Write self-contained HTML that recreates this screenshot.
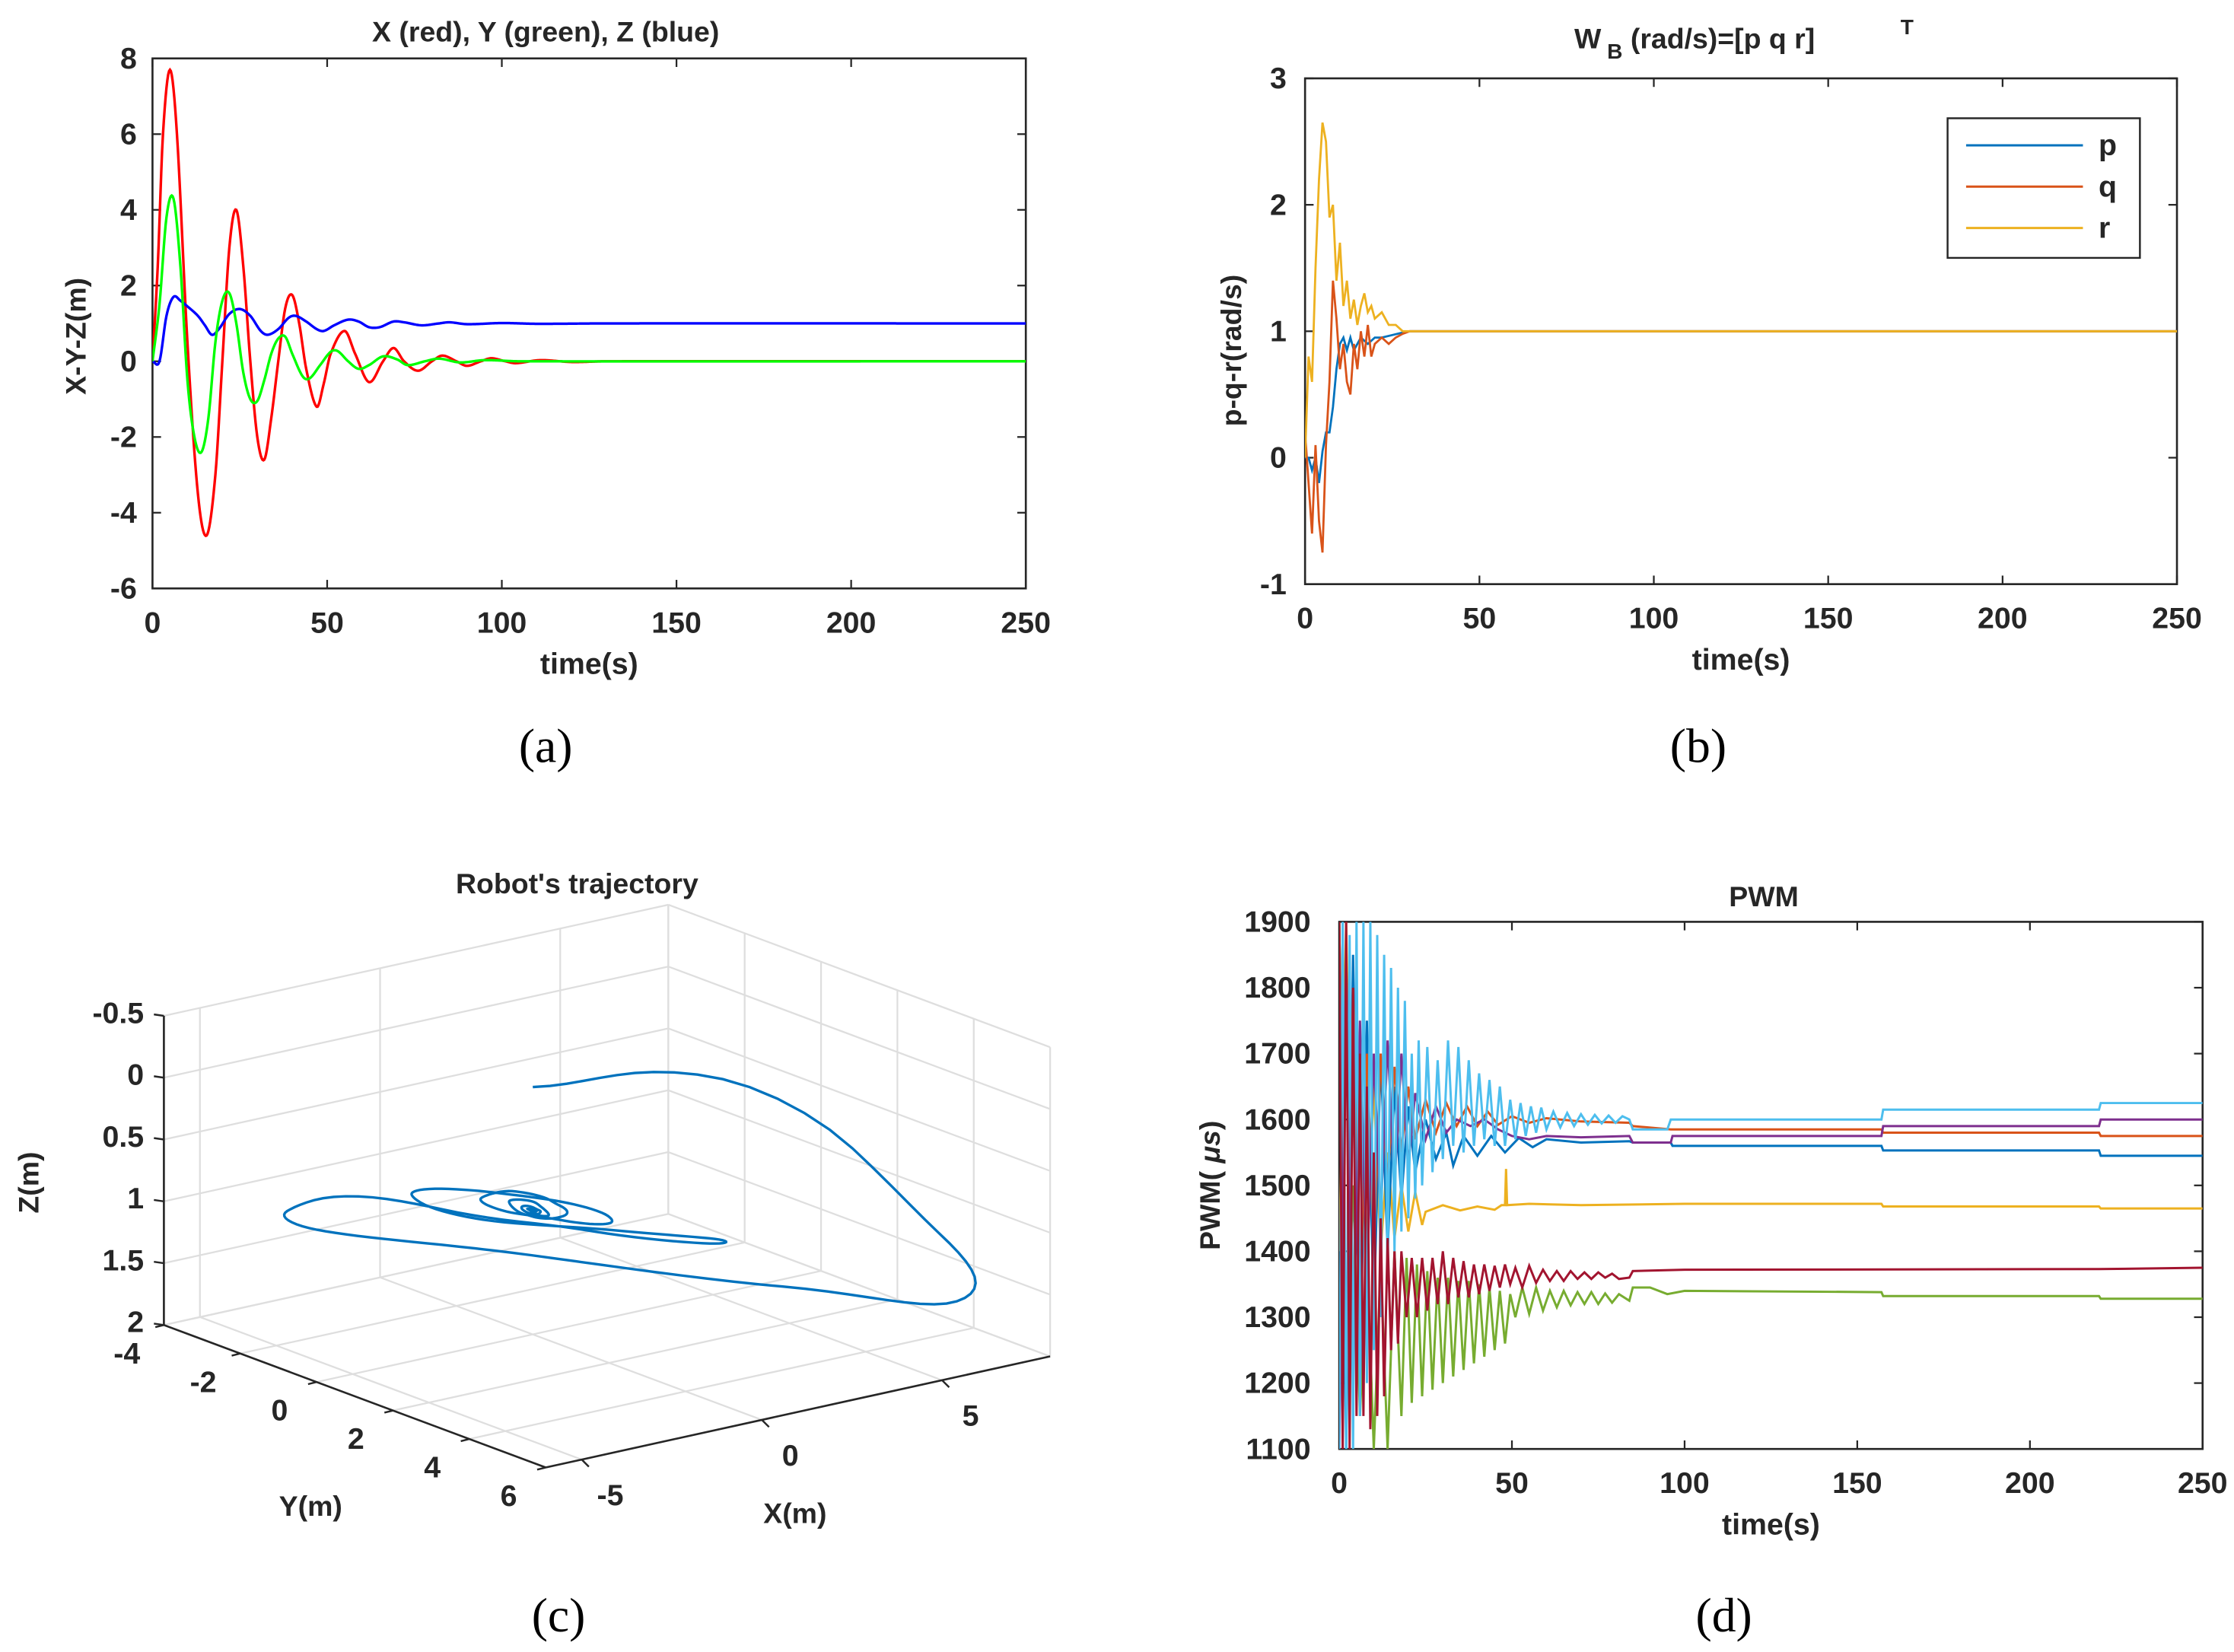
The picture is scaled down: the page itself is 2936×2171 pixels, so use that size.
<!DOCTYPE html>
<html><head><meta charset="utf-8"><style>
html,body{margin:0;padding:0;background:#fff}
svg{display:block}
text{font-family:"Liberation Sans",sans-serif;font-weight:bold;fill:#262626}
.serif{font-family:"Liberation Serif",serif;font-weight:normal;fill:#000}
</style></head><body>
<svg id="fig" width="2936" height="2171" viewBox="0 0 1568 1159.5" xmlns="http://www.w3.org/2000/svg">
<defs>
<clipPath id="clipA"><rect x="107" y="41" width="613" height="372"/></clipPath>
<clipPath id="clipB"><rect x="916" y="55" width="612" height="355"/></clipPath>
<clipPath id="clipD"><rect x="940" y="647" width="606" height="370"/></clipPath>
</defs>
<text class="serif" x="383" y="535" font-size="34" text-anchor="middle">(a)</text>
<text class="serif" x="1192" y="535" font-size="34" text-anchor="middle">(b)</text>
<text class="serif" x="392" y="1145" font-size="34" text-anchor="middle">(c)</text>
<text class="serif" x="1210" y="1145" font-size="34" text-anchor="middle">(d)</text>
</svg>
<script>
// ---------- Panel (a) data: X, Y, Z vs time ----------
const redT = [0,1.5,3,5,7,10,13,15.5,18,20,22,24,26,28,30,32,34,36,38,40,42,44,47,49,51,55,58,62,66,69,72,76,80,83,87,90,94,97,101,104,111,120,130,250];
const redV = [0,2.5,6,7.7,6,0.5,-3.5,-4.6,-3,0,3,4.0,2.5,0,-2,-2.6,-1.5,0,1.4,1.75,1,-0.2,-1.2,-0.6,0.2,0.8,0.2,-0.55,0,0.35,0,-0.25,0,0.15,0,-0.12,0,0.08,0,-0.05,0.03,-0.02,0,0];
const greenT = [0,2,4,6,8,10,12,14,16,18,20,22,24,26,28,30,32,34,36,38,40,43,45,48,51,53,56,59,62,66,70,73,78,82,88,95,105,250];
const greenV = [0,1.5,3.8,4.3,2.5,-0.5,-2,-2.4,-1.5,0.5,1.6,1.8,1,-0.3,-1,-1.05,-0.5,0.2,0.6,0.65,0.2,-0.4,-0.45,-0.1,0.25,0.27,0,-0.2,-0.1,0.13,0.05,-0.1,0,0.07,-0.03,0.03,0,0];
const blueT = [0,2,4,6,8,10,13,15,17,19,22,25,28,31,33,36,39,41,44,47,49,52,56,59,62,65,69,72,77,82,85,90,100,110,130,250];
const blueV = [0,0,1.2,1.7,1.6,1.45,1.2,0.95,0.7,0.85,1.25,1.38,1.2,0.8,0.7,0.85,1.15,1.2,1.05,0.85,0.8,0.95,1.1,1.05,0.9,0.9,1.05,1.03,0.95,1.0,1.03,0.98,1.01,0.99,1.0,1.0];
const aYTicks = [8,6,4,2,0,-2,-4,-6];
const tTicks = [0,50,100,150,200,250];

// ---------- Panel (b) data: p, q, r ----------
const pT = [0,1,2,3,4,5,6,7,8,9,10,11,12,13,14,16,18,20,22,25,28,30,250];
const pV = [0,0,-0.1,0,-0.2,0.05,0.2,0.2,0.4,0.7,0.9,0.95,0.85,0.95,0.85,0.95,0.9,0.95,0.95,0.97,0.99,1,1];
const qT = [0,1,2,3,4,5,6,7,8,9,10,11,12,13,14,15,16,17,18,19,20,22,24,26,28,30,250];
const qV = [0.2,-0.2,-0.6,0.1,-0.5,-0.75,0.1,0.6,1.4,1.1,0.7,0.9,0.6,0.5,0.9,0.7,1.0,0.8,1.05,0.8,0.9,0.95,0.9,0.95,0.98,1.0,1];
const rT = [0,1,2,3,4,5,6,7,8,9,10,11,12,13,14,15,16,17,18,19,20,22,24,26,28,30,250];
const rV = [0,0.8,0.6,1.5,2.2,2.65,2.5,1.9,2.0,1.4,1.7,1.2,1.4,1.1,1.25,1.05,1.2,1.3,1.15,1.2,1.1,1.15,1.05,1.05,1.0,1.0,1.0];
const bYTicks = [3,2,1,0,-1];

// ---------- Panel (d) data: PWM ----------
const lbT = [0,1,2,3,4,5,6,7,8,9,10,11,12,13,14,15,16,17,18,19,20,21,22,23,24,25.5,27,28.5,30,31.5,33,34.5,36,37.5,39,40.5,42,43.5,45,46.5,48,49.5,51,52.5,54,55.5,57,58.5,60,62,64,66,68,70,72,74,76,78,80,82,84,85,95,96,157,157.5,220,220.5,250];
const lbV = [1100,1900,1100,1880,1100,1900,1150,1900,1200,1900,1250,1880,1300,1850,1350,1830,1400,1800,1430,1780,1450,1700,1480,1720,1500,1710,1520,1690,1540,1720,1560,1710,1550,1690,1560,1670,1570,1660,1560,1650,1560,1630,1570,1625,1575,1620,1580,1618,1585,1612,1588,1610,1590,1608,1592,1607,1594,1606,1595,1605,1600,1585,1585,1600,1600,1615,1615,1625,1625];
const orT = [0,2,4,6,8,10,12,14,16,18,20,22,25,28,31,34,37,40,43,46,50,55,60,70,84,85,96,157,157.5,220,220.5,250];
const orV = [1900,1200,1800,1300,1700,1400,1700,1500,1680,1550,1650,1570,1630,1580,1625,1590,1620,1590,1612,1592,1605,1595,1602,1597,1595,1590,1585,1585,1580,1580,1575,1575];
const puT = [0,2,4,6,8,10,12,14,16,18,20,22,25,28,31,34,38,42,46,50,55,60,70,84,85,96,96.5,157,157.5,220,220.5,250];
const puV = [1100,1850,1200,1750,1350,1700,1450,1720,1500,1700,1530,1640,1570,1620,1580,1600,1590,1600,1585,1575,1570,1575,1573,1575,1565,1565,1575,1575,1590,1590,1600,1600];
const dbT = [0,2,4,6,8,10,12,14,16,18,20,22,25,28,31,33,36,40,44,48,52,56,60,70,84,85,96,96.5,157,157.5,220,220.5,250];
const dbV = [1900,1100,1850,1200,1750,1300,1700,1400,1650,1480,1620,1520,1600,1540,1580,1530,1575,1545,1575,1550,1572,1558,1570,1565,1567,1565,1565,1560,1560,1553,1553,1545,1545];
const yeT = [0,2,4,6,8,10,12,14,16,18,20,22,24,25,30,35,40,45,47,48,48.3,48.6,55,70,100,157,157.5,220,220.5,250];
const yeV = [1400,1900,1300,1700,1400,1650,1400,1550,1420,1500,1430,1490,1440,1460,1470,1462,1468,1463,1470,1470,1525,1470,1472,1470,1472,1472,1468,1468,1465,1465];
const drT = [0,1,2,3,4,5,6,7,8,9,10,11,12,13,14,15,16,17,18,19.5,21,22.5,24,25.5,27,28.5,30,31.5,33,34.5,36,37.5,39,40.5,42,43.5,45,46.5,48,49.5,51,53,55,57,59,61,63,65,67,69,71,73,75,77,79,81,84,85,100,220,250];
const drV = [1900,1100,1900,1100,1800,1150,1700,1150,1650,1130,1550,1150,1450,1180,1420,1250,1400,1260,1400,1300,1390,1300,1390,1310,1390,1320,1400,1320,1390,1330,1385,1330,1380,1335,1380,1340,1378,1345,1380,1350,1375,1345,1378,1352,1372,1355,1370,1355,1370,1358,1368,1358,1368,1360,1366,1358,1360,1370,1372,1373,1375];
const grT = [0,2,4,6,8,10,12,14,16,18,19.5,21,22.5,24,25.5,27,28.5,30,31.5,33,34.5,36,37.5,39,40.5,42,43.5,45,46.5,48,49.5,51,53,55,57,59,61,63,65,67,69,71,73,75,77,79,81,84,85,90,95,100,157,157.5,220,220.5,250];
const grV = [1900,1200,1500,1150,1400,1100,1380,1100,1400,1150,1390,1170,1380,1180,1370,1190,1360,1200,1360,1210,1355,1220,1355,1230,1350,1240,1345,1250,1340,1260,1335,1300,1345,1305,1345,1310,1340,1315,1340,1318,1338,1320,1338,1320,1336,1322,1335,1325,1345,1345,1335,1340,1338,1332,1332,1328,1328];
const dYTicks = [1900,1800,1700,1600,1500,1400,1300,1200,1100];

// ---------- Panel (c) ticks ----------
const cXTicks = [-5,0,5];
const cYTicks = [-4,-2,0,2,4,6];
const cZTicks = [-0.5,0,0.5,1,1.5,2];

const NS = 'http://www.w3.org/2000/svg';
const svg = document.getElementById('fig');
function mk(tag, attrs, parent){
  const e = document.createElementNS(NS, tag);
  for (const k in attrs) e.setAttribute(k, attrs[k]);
  (parent||svg).appendChild(e);
  return e;
}
function hermite(T, V, t){
  const n = T.length;
  if (t <= T[0]) return V[0];
  if (t >= T[n-1]) return V[n-1];
  let i = 0; while (T[i+1] < t) i++;
  const slope = j => {
    if (j <= 0) return (V[1]-V[0])/(T[1]-T[0]);
    if (j >= n-1) return (V[n-1]-V[n-2])/(T[n-1]-T[n-2]);
    return (V[j+1]-V[j-1])/(T[j+1]-T[j-1]);
  };
  const h = T[i+1]-T[i], s = (t-T[i])/h;
  const h00 = 2*s*s*s-3*s*s+1, h10 = s*s*s-2*s*s+s, h01 = -2*s*s*s+3*s*s, h11 = s*s*s-s*s;
  return h00*V[i] + h10*h*slope(i) + h01*V[i+1] + h11*h*slope(i+1);
}
function axes2d(o){
  const sx = v => o.x0 + (v-o.xmin)/(o.xmax-o.xmin)*(o.x1-o.x0);
  const sy = v => o.y1 - (v-o.ymin)/(o.ymax-o.ymin)*(o.y1-o.y0);
  const g = mk('g', {});
  
  
  o.xticks.forEach(v => {
    const x = sx(v);
    const t1 = mk('line', {x1:x,y1:o.y1,x2:x,y2:o.y1-6,stroke:'#262626','stroke-width':1.2}, g);
    
    
    const t2 = mk('line', {x1:x,y1:o.y0,x2:x,y2:o.y0+6,stroke:'#262626','stroke-width':1.2}, g);
    
    
    const tl = mk('text', {x:x,y:o.y1+31,'font-size':21,'text-anchor':'middle'}, g);
    tl.textContent = v;
    
    
  });
  o.yticks.forEach(v => {
    const y = sy(v);
    const t1 = mk('line', {x1:o.x0,y1:y,x2:o.x0+6,y2:y,stroke:'#262626','stroke-width':1.2}, g);
    
    
    const t2 = mk('line', {x1:o.x1,y1:y,x2:o.x1-6,y2:y,stroke:'#262626','stroke-width':1.2}, g);
    
    
    const tl = mk('text', {x:o.x0-o.ylOff,y:y+7,'font-size':21,'text-anchor':'end'}, g);
    tl.textContent = v;
    
    
  });
  const box = mk('rect', {x:o.x0,y:o.y0,width:o.x1-o.x0,height:o.y1-o.y0,fill:'none',stroke:'#262626','stroke-width':1.4}, g);
  
  
  const xl = mk('text', {x:(o.x0+o.x1)/2,y:o.y1+60,'font-size':21,'text-anchor':'middle'}, g);
  xl.textContent = 'time(s)';
  
  
  return {sx, sy};
}
function seriesPath(T, V, sx, sy, smooth){
  let d = '';
  if (smooth){
    for (let t = T[0]; t <= T[T.length-1]; t += 0.25){
      d += (d ? 'L' : 'M') + sx(t).toFixed(2) + ',' + sy(hermite(T,V,t)).toFixed(2);
    }
  } else {
    T.forEach((t,i) => { d += (i ? 'L' : 'M') + sx(t).toFixed(2) + ',' + sy(V[i]).toFixed(2); });
  }
  return d;
}

// ===== Panel a =====
const A = axes2d({name:'panel-a',x0:107,x1:720,y0:41,y1:413,xmin:0,xmax:250,ymin:-6,ymax:8,xticks:tTicks,yticks:aYTicks,ylOff:11});
const gA = mk('g', {'clip-path':'url(#clipA)'});


[[redT,redV,'#ff0000','x-red-line'],[blueT,blueV,'#0000ff','z-blue-line'],[greenT,greenV,'#00ff00','y-green-line']].forEach(s => {
  const p = mk('path', {d:seriesPath(s[0],s[1],A.sx,A.sy,true),fill:'none',stroke:s[2],'stroke-width':1.8}, gA);
  
  
});
let tt = mk('text', {x:383,y:29,'font-size':20,'text-anchor':'middle'});
tt.textContent = 'X (red), Y (green), Z (blue)';


tt = mk('text', {x:0,y:0,'font-size':20,'text-anchor':'middle',transform:'translate(60,236) rotate(-90)'});
tt.textContent = 'X-Y-Z(m)';



// ===== Panel b =====
const B = axes2d({name:'panel-b',x0:916,x1:1528,y0:55,y1:410,xmin:0,xmax:250,ymin:-1,ymax:3,xticks:tTicks,yticks:bYTicks,ylOff:13});
const gB = mk('g', {'clip-path':'url(#clipB)'});


const bCols = ['#0072BD','#D95319','#EDB120'];
[[pT,pV,bCols[0],'p-line'],[qT,qV,bCols[1],'q-line'],[rT,rV,bCols[2],'r-line']].forEach(s => {
  const p = mk('path', {d:seriesPath(s[0],s[1],B.sx,B.sy,false),fill:'none',stroke:s[2],'stroke-width':1.5}, gB);
  
  
});
tt = mk('text', {x:1105,y:34,'font-size':20});
tt.innerHTML = 'W<tspan font-size="15" dy="7"> B</tspan><tspan dy="-7"> (rad/s)=[p q r]</tspan>';


tt = mk('text', {x:1334,y:24,'font-size':15});
tt.textContent = 'T';


tt = mk('text', {x:0,y:0,'font-size':20,'text-anchor':'middle',transform:'translate(871,246) rotate(-90)'});
tt.textContent = 'p-q-r(rad/s)';


const leg = mk('g', {});


const lr = mk('rect', {x:1367,y:83,width:135,height:98,fill:'#fff',stroke:'#262626','stroke-width':1.3}, leg);


['p','q','r'].forEach((n,i) => {
  const y = 102 + i*29;
  const l = mk('line', {x1:1380,y1:y,x2:1462,y2:y,stroke:bCols[i],'stroke-width':1.6}, leg);
  
  
  const t = mk('text', {x:1473,y:y+7,'font-size':21}, leg);
  t.textContent = n;
  
  
});

// ===== Panel d =====
const D = axes2d({name:'panel-d',x0:940,x1:1546,y0:647,y1:1017,xmin:0,xmax:250,ymin:1100,ymax:1900,xticks:tTicks,yticks:dYTicks,ylOff:20});
const gD = mk('g', {'clip-path':'url(#clipD)'});


[[grT,grV,'#77AC30','pwm-green'],[yeT,yeV,'#EDB120','pwm-yellow'],[dbT,dbV,'#0072BD','pwm-blue'],[orT,orV,'#D95319','pwm-orange'],[puT,puV,'#7E2F8E','pwm-purple'],[lbT,lbV,'#4DBEEE','pwm-lightblue'],[drT,drV,'#A2142F','pwm-darkred']].forEach(s => {
  const p = mk('path', {d:seriesPath(s[0],s[1],D.sx,D.sy,false),fill:'none',stroke:s[2],'stroke-width':1.6}, gD);
  
  
});
tt = mk('text', {x:1238,y:636,'font-size':20,'text-anchor':'middle'});
tt.textContent = 'PWM';


tt = mk('text', {x:0,y:0,'font-size':20,'text-anchor':'middle',transform:'translate(856,832) rotate(-90)'});
tt.innerHTML = 'PWM(  <tspan font-style="italic">μs</tspan>)';



// ===== Panel c (3D) =====
const X0 = -6, X1 = 8, Y0 = -4, Y1 = 6, Z0 = -0.5, Z1 = 2;
function P(x,y,z){
  return [115 + (x-X0)*25.29 + (y-Y0)*26.8, 930 - (x-X0)*5.57 + (y-Y0)*10 + (z-Z1)*86.8];
}
const gC = mk('g', {});


function seg(a,b,col,w,name){
  const l = mk('line', {x1:a[0],y1:a[1],x2:b[0],y2:b[1],stroke:col,'stroke-width':w}, gC);
  
  
}
const gcol = '#dedede';
cXTicks.concat([X1]).forEach(x => seg(P(x,Y0,Z1),P(x,Y1,Z1),gcol,1.2,'floor-grid-x'));
cYTicks.forEach(y => seg(P(X0,y,Z1),P(X1,y,Z1),gcol,1.2,'floor-grid-y'));
cXTicks.concat([X1]).forEach(x => seg(P(x,Y0,Z0),P(x,Y0,Z1),gcol,1.2,'wall-grid-x'));
cZTicks.forEach(z => seg(P(X0,Y0,z),P(X1,Y0,z),gcol,1.2,'wall-grid-z'));
cYTicks.forEach(y => seg(P(X1,y,Z0),P(X1,y,Z1),gcol,1.2,'wall-grid-y'));
cZTicks.forEach(z => seg(P(X1,Y0,z),P(X1,Y1,z),gcol,1.2,'wall-grid-z2'));
seg(P(X0,Y0,Z0),P(X0,Y0,Z1),'#262626',1.4,'z-axis-line');
seg(P(X0,Y0,Z1),P(X0,Y1,Z1),'#262626',1.4,'y-axis-line');
seg(P(X0,Y1,Z1),P(X1,Y1,Z1),'#262626',1.4,'x-axis-line');
cZTicks.forEach(z => {
  const p = P(X0,Y0,z);
  seg([p[0]-7,p[1]-1],p,'#262626',1.3,'z-tick');
  const t = mk('text', {x:p[0]-14,y:p[1]+5,'font-size':21,'text-anchor':'end'}, gC);
  t.textContent = z;
  
  
});
cYTicks.forEach(y => {
  const p = P(X0,y,Z1);
  seg(p,[p[0]-6,p[1]+1.5],'#262626',1.3,'y-tick');
  const t = mk('text', {x:p[0]-26,y:p[1]+27,'font-size':21,'text-anchor':'middle'}, gC);
  t.textContent = y;
  
  
});
cXTicks.forEach(x => {
  const p = P(x,Y1,Z1);
  seg(p,[p[0]+5,p[1]+5],'#262626',1.3,'x-tick');
  const t = mk('text', {x:p[0]+20,y:p[1]+32,'font-size':21,'text-anchor':'middle'}, gC);
  t.textContent = x;
  
  
});
let dC = '';
for (let t = 0; t <= 250; t += 0.2){
  const q = P(hermite(redT,redV,t), hermite(greenT,greenV,t), hermite(blueT,blueV,t));
  dC += (dC ? 'L' : 'M') + q[0].toFixed(2) + ',' + q[1].toFixed(2);
}
const traj = mk('path', {d:dC,fill:'none',stroke:'#0072BD','stroke-width':1.8});


tt = mk('text', {x:405,y:627,'font-size':20,'text-anchor':'middle'});
tt.textContent = "Robot's trajectory";


tt = mk('text', {x:0,y:0,'font-size':20,'text-anchor':'middle',transform:'translate(27,830) rotate(-90)'});
tt.textContent = 'Z(m)';


tt = mk('text', {x:218,y:1064,'font-size':20,'text-anchor':'middle'});
tt.textContent = 'Y(m)';


tt = mk('text', {x:558,y:1069,'font-size':20,'text-anchor':'middle'});
tt.textContent = 'X(m)';


</script>
</body></html>
